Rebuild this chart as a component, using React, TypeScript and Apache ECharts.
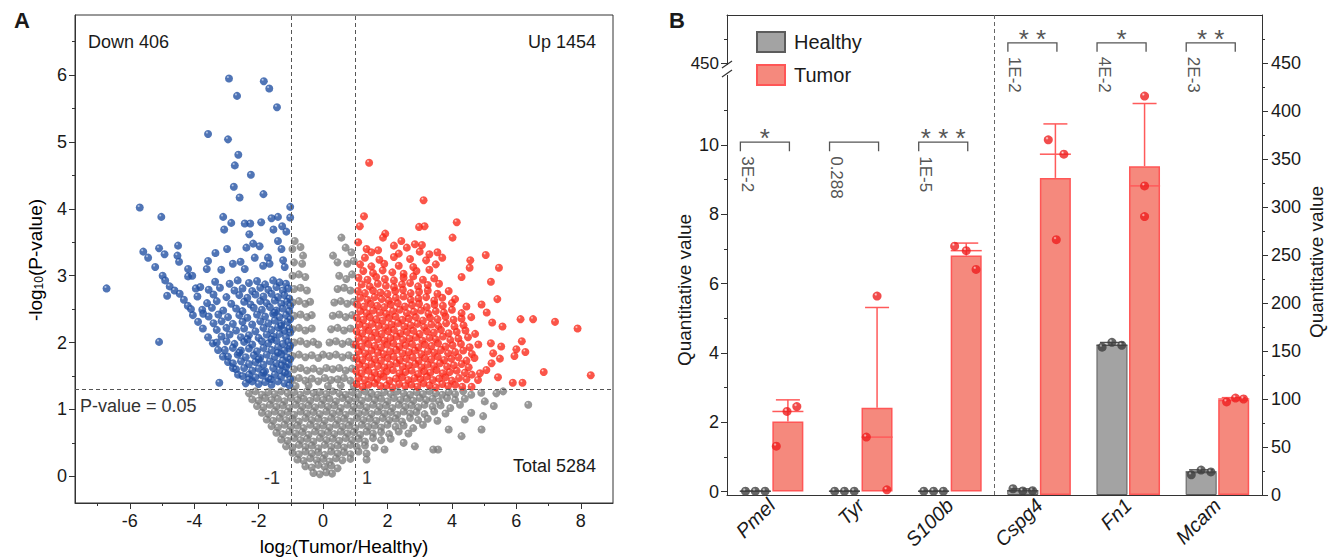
import React, { useEffect, useRef } from 'react';
import * as echarts from 'echarts';

const FONT = '"Liberation Sans", Arial, Helvetica, sans-serif';

// ---------------- Panel A data (log2 FC, -log10 P) ----------------
const downPoints: [number, number][] = [
  [-2.92,5.95],[-1.84,5.91],[-1.67,5.80],[-2.67,5.69],[-1.43,5.52],[-3.57,5.12],[-2.95,5.04],[-2.63,4.81],[-2.74,4.65],[-2.24,4.51],
  [-2.77,4.33],[-2.59,4.17],[-1.85,4.22],[-5.69,4.02],[-5.02,3.88],[-1.02,4.03],[-6.72,2.81],[-5.09,2.01],[-3.22,1.40],
  [-3.10,3.88],[-2.85,3.79],[-3.07,3.69],[-2.43,3.78],[-2.26,3.78],[-2.29,3.62],[-1.92,3.80],[-1.60,3.86],[-1.40,3.88],[-1.54,3.69],
  [-1.27,3.74],[-1.14,3.66],[-1.02,3.87],[-5.58,3.36],[-5.43,3.27],[-5.09,3.41],[-4.92,3.32],[-5.21,3.13],[-4.50,3.45],[-4.52,3.30],
  [-4.47,3.21],[-4.19,3.10],[-4.06,3.00],[-4.19,2.99],[-4.98,3.00],[-4.90,2.93],[-4.76,2.84],[-4.61,2.78],[-4.45,2.73],[-4.32,2.64],
  [-4.84,2.70],[-4.04,2.41],[-3.88,2.31],[-3.73,2.21],[-3.57,2.08],[-3.42,1.99],[-3.26,1.89],[-3.11,1.79],[-2.95,1.71],[-2.80,1.62],
  [-2.64,1.52],[-3.95,2.81],[-3.81,2.83],[-3.72,2.43],[-3.57,3.22],[-3.61,3.10],[-3.34,3.34],[-3.16,3.09],[-2.98,3.40],[-2.80,3.18],
  [-2.56,3.21],[-2.43,3.10],[-2.12,3.27],[-1.97,3.44],[-2.17,3.48],[-2.38,3.42],[-1.71,3.27],[-1.66,3.18],[-1.86,3.15],[-1.40,3.52],
  [-1.29,3.40],[-1.24,3.23],[-1.19,3.13],[-4.20,2.55],[-4.10,2.50],
  [-3.35,2.91],[-2.90,2.88],[-2.65,2.93],[-2.30,2.89],[-2.05,2.92],[-1.80,2.87],[-1.55,2.93],[-1.35,2.90],[-1.15,2.88],
  [-3.55,2.79],[-3.20,2.82],[-2.75,2.78],[-2.50,2.81],[-2.20,2.77],[-1.95,2.82],[-1.70,2.79],[-1.45,2.83],[-1.25,2.78],[-1.08,2.81],
  [-3.90,2.69],[-3.40,2.72],[-3.00,2.68],[-2.60,2.71],[-2.35,2.67],[-2.10,2.72],[-1.85,2.69],[-1.60,2.73],[-1.40,2.68],[-1.20,2.71],[-1.05,2.66],
  [-3.60,2.59],[-3.30,2.62],[-2.85,2.58],[-2.45,2.61],[-2.25,2.57],[-1.95,2.62],[-1.75,2.59],[-1.50,2.63],[-1.30,2.58],[-1.12,2.61],
  [-3.75,2.49],[-3.45,2.52],[-3.10,2.48],[-2.70,2.51],[-2.50,2.47],[-2.15,2.52],[-1.90,2.49],[-1.65,2.53],[-1.45,2.48],[-1.25,2.51],[-1.05,2.47],
  [-3.55,2.39],[-3.25,2.42],[-2.95,2.38],[-2.60,2.41],[-2.35,2.37],[-2.05,2.42],[-1.80,2.39],[-1.55,2.43],[-1.35,2.38],[-1.15,2.41],
  [-3.40,2.29],[-3.15,2.32],[-2.80,2.28],[-2.50,2.31],[-2.20,2.27],[-1.95,2.32],[-1.70,2.29],[-1.50,2.33],[-1.30,2.28],[-1.10,2.31],
  [-3.30,2.19],[-3.00,2.22],[-2.70,2.18],[-2.45,2.21],[-2.10,2.17],[-1.85,2.22],[-1.60,2.19],[-1.40,2.23],[-1.20,2.18],[-1.05,2.21],
  [-3.15,2.09],[-2.90,2.12],[-2.55,2.08],[-2.30,2.11],[-2.00,2.07],[-1.75,2.12],[-1.55,2.09],[-1.35,2.13],[-1.15,2.08],
  [-3.30,2.00],[-3.00,2.02],[-2.75,1.98],[-2.45,2.01],[-2.20,1.97],[-1.90,2.02],[-1.70,1.99],[-1.45,2.03],[-1.25,1.98],[-1.08,2.01],
  [-3.05,1.89],[-2.80,1.92],[-2.55,1.88],[-2.30,1.91],[-2.05,1.87],[-1.85,1.92],[-1.60,1.89],[-1.40,1.93],[-1.20,1.88],[-1.05,1.91],
  [-2.95,1.79],[-2.65,1.82],[-2.40,1.78],[-2.15,1.81],[-1.95,1.77],[-1.75,1.82],[-1.50,1.79],[-1.30,1.83],[-1.12,1.78],
  [-2.80,1.69],[-2.55,1.72],[-2.30,1.68],[-2.10,1.71],[-1.85,1.67],[-1.65,1.72],[-1.45,1.69],[-1.25,1.73],[-1.07,1.68],
  [-2.70,1.60],[-2.45,1.62],[-2.20,1.58],[-2.00,1.61],[-1.80,1.57],[-1.55,1.62],[-1.35,1.59],[-1.15,1.63],
  [-2.50,1.50],[-2.30,1.52],[-2.10,1.48],[-1.90,1.51],[-1.70,1.47],[-1.50,1.52],[-1.30,1.49],[-1.10,1.53],
  [-2.40,1.39],[-2.20,1.42],[-2.00,1.38],[-1.80,1.41],[-1.60,1.37],[-1.40,1.42],[-1.20,1.39],[-1.05,1.36],
  [-1.02,1.45],[-1.18,1.55],[-1.28,1.66],[-1.02,1.75],[-1.40,1.85],[-1.02,1.95],[-1.60,2.05],[-1.02,2.15],[-1.30,2.25],
  [-1.02,2.35],[-1.50,2.45],[-1.02,2.55],[-1.62,1.45],[-1.85,1.55],[-2.30,1.45],[-2.00,1.75],[-2.60,1.85],[-2.35,2.05],
];

const upPoints: [number, number][] = [
  [1.04,1.38],[1.22,1.34],[1.41,1.37],[1.60,1.39],[1.78,1.35],[1.97,1.36],[2.15,1.33],[2.36,1.38],[2.55,1.35],[2.74,1.37],[2.93,1.34],[3.12,1.39],[3.30,1.36],[3.50,1.33],[3.70,1.38],[3.88,1.35],[4.10,1.37],[4.32,1.34],
  [1.10,1.47],[1.30,1.44],[1.50,1.48],[1.68,1.45],[1.88,1.49],[2.06,1.43],[2.26,1.46],[2.45,1.48],[2.64,1.44],[2.84,1.47],[3.02,1.45],[3.22,1.49],[3.41,1.44],[3.60,1.46],[3.80,1.48],[4.00,1.43],[4.22,1.47],[4.45,1.45],
  [1.03,1.57],[1.20,1.54],[1.40,1.58],[1.60,1.55],[1.79,1.53],[1.98,1.57],[2.17,1.59],[2.37,1.54],[2.56,1.56],[2.75,1.58],[2.95,1.53],[3.14,1.57],[3.33,1.55],[3.52,1.59],[3.72,1.54],[3.93,1.56],[4.15,1.58],[4.40,1.55],[4.62,1.52],
  [1.12,1.67],[1.31,1.64],[1.50,1.68],[1.70,1.65],[1.90,1.63],[2.08,1.67],[2.28,1.69],[2.47,1.64],[2.66,1.66],[2.86,1.68],[3.05,1.63],[3.24,1.67],[3.44,1.65],[3.63,1.69],[3.85,1.64],[4.06,1.66],[4.30,1.68],[4.52,1.63],
  [1.04,1.77],[1.22,1.74],[1.42,1.78],[1.61,1.75],[1.80,1.73],[2.00,1.77],[2.19,1.79],[2.38,1.74],[2.58,1.76],[2.78,1.78],[2.97,1.73],[3.16,1.77],[3.36,1.75],[3.56,1.79],[3.76,1.74],[3.98,1.76],[4.20,1.78],[4.45,1.73],[4.70,1.77],
  [1.10,1.87],[1.30,1.84],[1.50,1.88],[1.70,1.85],[1.88,1.83],[2.08,1.87],[2.27,1.89],[2.46,1.84],[2.66,1.86],[2.85,1.88],[3.05,1.83],[3.25,1.87],[3.45,1.85],[3.66,1.89],[3.88,1.84],[4.10,1.86],[4.35,1.88],[4.62,1.83],
  [1.02,1.97],[1.20,1.94],[1.40,1.98],[1.60,1.95],[1.80,1.93],[1.99,1.97],[2.18,1.99],[2.37,1.94],[2.56,1.96],[2.76,1.98],[2.96,1.93],[3.16,1.97],[3.37,1.95],[3.57,1.99],[3.80,1.94],[4.02,1.96],[4.28,1.98],[4.55,1.93],[4.82,1.97],
  [1.10,2.07],[1.30,2.04],[1.50,2.08],[1.70,2.05],[1.90,2.03],[2.09,2.07],[2.28,2.09],[2.48,2.04],[2.68,2.06],[2.88,2.08],[3.08,2.03],[3.30,2.07],[3.50,2.05],[3.72,2.09],[3.95,2.04],[4.20,2.06],[4.50,2.08],
  [1.04,2.17],[1.22,2.14],[1.42,2.18],[1.62,2.15],[1.82,2.13],[2.02,2.17],[2.20,2.19],[2.40,2.14],[2.60,2.16],[2.80,2.18],[3.00,2.13],[3.22,2.17],[3.44,2.15],[3.66,2.19],[3.90,2.14],[4.15,2.16],[4.42,2.18],[4.72,2.13],
  [1.12,2.27],[1.32,2.24],[1.52,2.28],[1.72,2.25],[1.92,2.23],[2.12,2.27],[2.32,2.29],[2.52,2.24],[2.72,2.26],[2.93,2.28],[3.14,2.23],[3.36,2.27],[3.58,2.25],[3.82,2.29],[4.08,2.24],[4.36,2.26],
  [1.05,2.37],[1.25,2.34],[1.45,2.38],[1.65,2.35],[1.85,2.33],[2.05,2.37],[2.25,2.39],[2.46,2.34],[2.66,2.36],[2.88,2.38],[3.10,2.33],[3.32,2.37],[3.55,2.35],[3.80,2.39],[4.05,2.34],[4.30,2.36],[4.60,2.38],
  [1.15,2.47],[1.35,2.44],[1.55,2.48],[1.76,2.45],[1.96,2.43],[2.17,2.47],[2.38,2.49],[2.60,2.44],[2.82,2.46],[3.04,2.48],[3.27,2.43],[3.50,2.47],[3.75,2.45],[4.00,2.49],[4.30,2.44],
  [1.06,2.57],[1.27,2.54],[1.48,2.58],[1.68,2.55],[1.90,2.53],[2.10,2.57],[2.32,2.59],[2.54,2.54],[2.76,2.56],[2.98,2.58],[3.22,2.53],[3.46,2.57],[3.72,2.55],[4.00,2.59],[4.45,2.54],
  [1.15,2.67],[1.38,2.64],[1.60,2.68],[1.82,2.65],[2.04,2.63],[2.26,2.67],[2.50,2.69],[2.72,2.64],[2.96,2.66],[3.20,2.68],[3.45,2.63],[3.70,2.67],[4.10,2.65],
  [1.08,2.77],[1.30,2.74],[1.55,2.78],[1.78,2.75],[2.00,2.73],[2.24,2.77],[2.48,2.79],[2.72,2.74],[2.98,2.76],[3.25,2.78],[3.55,2.73],[3.90,2.77],
  [1.20,2.87],[1.45,2.84],[1.70,2.88],[1.95,2.85],[2.20,2.83],[2.45,2.87],[2.70,2.89],[2.95,2.84],[3.25,2.86],[3.60,2.88],
  [1.10,2.97],[1.38,2.94],[1.65,2.98],[1.92,2.95],[2.20,2.93],[2.50,2.97],[2.80,2.99],[3.10,2.94],[3.45,2.96],[4.30,2.98],
  [1.25,3.07],[1.55,3.04],[1.85,3.08],[2.15,3.05],[2.50,3.03],[2.90,3.07],[3.30,3.09],[4.55,3.12],
  [1.15,3.17],[1.50,3.14],[1.90,3.18],[2.35,3.15],[2.80,3.13],[3.50,3.17],[4.57,3.23],
  [1.30,3.27],[1.75,3.24],[2.20,3.28],[2.70,3.25],[3.20,3.23],[3.70,3.27],
  [1.09,3.50],[1.35,3.40],[1.71,3.38],[2.20,3.45],[2.60,3.42],[2.85,3.47],[1.50,3.35],[2.35,3.33],[3.00,3.36],[3.30,3.32],[3.55,3.35],
  [4.92,2.57],[5.08,2.45],[5.25,2.30],
  [1.43,4.69],[3.12,4.13],[1.27,3.89],[1.14,3.74],[2.98,3.73],[3.15,3.74],[4.15,3.80],[4.02,3.57],[1.93,3.63],[1.86,3.57],
  [2.43,3.52],[3.07,3.46],[5.05,3.31],[5.46,3.12],[5.21,2.91],[5.41,2.65],[6.13,2.35],[6.52,2.35],[7.20,2.31],[7.90,2.21],
  [8.31,1.51],[6.85,1.56],[6.17,2.02],[6.28,1.86],[6.00,1.90],[5.94,1.80],[5.57,2.24],[5.89,1.40],[6.19,1.40],[5.43,1.48],
  [5.53,1.94],[5.49,1.76],[5.21,1.99],[5.28,1.84],[5.23,1.69],[5.07,1.59],[4.87,1.54],[4.81,1.44],[4.61,1.34],
];

const nsPoints: [number, number][] = [
  [-2.30,1.24],[-2.10,1.27],[-1.90,1.22],[-1.70,1.26],[-1.50,1.23],[-1.30,1.27],[-1.10,1.24],[-0.90,1.26],[-0.70,1.22],[-0.50,1.27],[-0.30,1.24],[-0.10,1.26],
  [0.10,1.23],[0.30,1.27],[0.50,1.24],[0.70,1.22],[0.90,1.26],[1.10,1.23],[1.30,1.27],[1.50,1.24],[1.70,1.22],[1.90,1.26],[2.10,1.23],[2.30,1.27],[2.50,1.24],
  [2.70,1.22],[2.90,1.26],[3.10,1.23],[3.30,1.27],[3.50,1.24],[3.70,1.22],[3.90,1.26],[4.10,1.23],[4.35,1.27],[4.60,1.22],
  [-2.20,1.15],[-2.00,1.13],[-1.80,1.17],[-1.60,1.14],[-1.40,1.16],[-1.20,1.12],[-1.00,1.17],[-0.80,1.14],[-0.60,1.16],[-0.40,1.13],[-0.20,1.17],[0.00,1.14],
  [0.20,1.16],[0.40,1.12],[0.60,1.17],[0.80,1.14],[1.00,1.16],[1.20,1.13],[1.40,1.17],[1.60,1.14],[1.80,1.16],[2.00,1.12],[2.20,1.17],[2.40,1.14],[2.60,1.16],
  [2.80,1.13],[3.00,1.17],[3.20,1.14],[3.40,1.16],[3.60,1.12],[3.85,1.17],[4.10,1.14],[4.40,1.16],
  [-2.05,1.05],[-1.85,1.03],[-1.65,1.07],[-1.45,1.04],[-1.25,1.06],[-1.05,1.02],[-0.85,1.07],[-0.65,1.04],[-0.45,1.06],[-0.25,1.03],[-0.05,1.07],[0.15,1.04],
  [0.35,1.06],[0.55,1.02],[0.75,1.07],[0.95,1.04],[1.15,1.06],[1.35,1.03],[1.55,1.07],[1.75,1.04],[1.95,1.06],[2.15,1.02],[2.35,1.07],[2.55,1.04],[2.75,1.06],
  [2.95,1.03],[3.15,1.07],[3.40,1.04],[3.65,1.06],[3.95,1.02],[4.25,1.07],
  [-1.90,0.95],[-1.70,0.93],[-1.50,0.97],[-1.30,0.94],[-1.10,0.96],[-0.90,0.92],[-0.70,0.97],[-0.50,0.94],[-0.30,0.96],[-0.10,0.93],[0.10,0.97],[0.30,0.94],
  [0.50,0.96],[0.70,0.92],[0.90,0.97],[1.10,0.94],[1.30,0.96],[1.50,0.93],[1.70,0.97],[1.90,0.94],[2.10,0.96],[2.30,0.92],[2.50,0.97],[2.70,0.94],[2.90,0.96],
  [3.15,0.93],[3.45,0.97],[3.80,0.94],
  [-1.75,0.85],[-1.55,0.83],[-1.35,0.87],[-1.15,0.84],[-0.95,0.86],[-0.75,0.82],[-0.55,0.87],[-0.35,0.84],[-0.15,0.86],[0.05,0.83],[0.25,0.87],[0.45,0.84],
  [0.65,0.86],[0.85,0.82],[1.05,0.87],[1.25,0.84],[1.45,0.86],[1.65,0.83],[1.85,0.87],[2.05,0.84],[2.25,0.86],[2.45,0.82],[2.70,0.87],[2.95,0.84],[3.25,0.86],[3.55,0.83],
  [-1.60,0.75],[-1.40,0.73],[-1.20,0.77],[-1.00,0.74],[-0.80,0.76],[-0.60,0.72],[-0.40,0.77],[-0.20,0.74],[0.00,0.76],[0.20,0.73],[0.40,0.77],[0.60,0.74],
  [0.80,0.76],[1.00,0.72],[1.20,0.77],[1.40,0.74],[1.60,0.76],[1.80,0.73],[2.00,0.77],[2.25,0.74],[2.50,0.76],[2.80,0.72],[3.10,0.77],
  [-1.45,0.65],[-1.25,0.63],[-1.05,0.67],[-0.85,0.64],[-0.65,0.66],[-0.45,0.62],[-0.25,0.67],[-0.05,0.64],[0.15,0.66],[0.35,0.63],[0.55,0.67],[0.75,0.64],
  [0.95,0.66],[1.15,0.62],[1.35,0.67],[1.55,0.64],[1.80,0.66],[2.05,0.63],[2.35,0.67],[2.65,0.64],
  [-1.30,0.55],[-1.10,0.53],[-0.90,0.57],[-0.70,0.54],[-0.50,0.56],[-0.30,0.52],[-0.10,0.57],[0.10,0.54],[0.30,0.56],[0.50,0.53],[0.70,0.57],[0.90,0.54],
  [1.10,0.56],[1.30,0.52],[1.55,0.57],[1.80,0.54],[2.10,0.56],
  [-1.15,0.45],[-0.95,0.43],[-0.75,0.47],[-0.55,0.44],[-0.35,0.46],[-0.15,0.42],[0.05,0.47],[0.25,0.44],[0.45,0.46],[0.65,0.43],[0.85,0.47],[1.05,0.44],[1.30,0.46],[1.60,0.43],
  [-0.95,0.35],[-0.75,0.33],[-0.55,0.37],[-0.35,0.34],[-0.15,0.36],[0.05,0.32],[0.25,0.37],[0.45,0.34],[0.65,0.36],[0.85,0.33],[1.10,0.37],[1.35,0.34],
  [-0.80,0.25],[-0.60,0.23],[-0.40,0.27],[-0.20,0.24],[0.00,0.26],[0.20,0.22],[0.40,0.27],[0.60,0.24],[0.85,0.26],
  [-0.55,0.15],[-0.35,0.13],[-0.15,0.17],[0.05,0.14],[0.25,0.16],[0.45,0.12],
  [-0.30,0.05],[-0.10,0.03],[0.10,0.06],[0.28,0.04],
  [6.37,1.07],[4.92,0.70],[4.97,0.90],[4.30,0.60],[3.57,0.40],[3.42,0.40],[2.85,0.45],[1.91,0.40],[1.35,0.25],[5.02,1.12],
  [4.91,1.25],[5.38,1.24],[5.59,1.27],[4.60,0.95],[4.40,0.85],[3.90,0.70],[2.50,0.50],[5.30,1.05],
  [-0.95,3.40],[-0.70,3.43],[-0.88,3.52],[-0.62,3.30],[-0.90,3.20],[-0.65,3.18],[-0.95,3.00],[-0.75,3.02],[-0.55,2.98],
  [-0.90,2.80],[-0.70,2.82],[-0.50,2.78],[-0.95,2.60],[-0.75,2.62],[-0.55,2.58],[-0.40,2.61],[-0.90,2.40],[-0.70,2.42],[-0.50,2.38],[-0.35,2.41],
  [-0.95,2.20],[-0.75,2.22],[-0.55,2.18],[-0.35,2.21],[-0.90,2.00],[-0.70,2.02],[-0.50,1.98],[-0.30,2.01],[-0.15,1.97],
  [-0.95,1.80],[-0.75,1.82],[-0.55,1.78],[-0.35,1.81],[-0.15,1.77],[0.00,1.82],[-0.90,1.60],[-0.70,1.62],[-0.50,1.58],[-0.30,1.61],[-0.10,1.57],[0.10,1.62],
  [-0.95,1.45],[-0.75,1.47],[-0.55,1.43],[-0.35,1.46],[-0.15,1.42],[0.05,1.47],[0.25,1.44],[-0.85,1.35],[-0.45,1.36],[0.15,1.35],[0.55,1.36],
  [0.57,3.57],[0.31,3.30],[0.88,3.35],[0.72,2.95],[0.70,3.42],[0.45,3.20],[0.75,3.18],[0.95,3.22],[0.50,3.00],[0.90,3.02],
  [0.45,2.80],[0.65,2.82],[0.85,2.78],[0.35,2.60],[0.55,2.62],[0.75,2.58],[0.95,2.61],[0.30,2.40],[0.50,2.42],[0.70,2.38],[0.90,2.41],
  [0.25,2.20],[0.45,2.22],[0.65,2.18],[0.85,2.21],[0.20,2.00],[0.40,2.02],[0.60,1.98],[0.80,2.01],[0.95,1.97],
  [0.20,1.80],[0.40,1.82],[0.60,1.78],[0.80,1.81],[0.95,1.77],[0.30,1.60],[0.50,1.62],[0.70,1.58],[0.90,1.61],[0.45,1.45],[0.65,1.47],[0.85,1.43],[0.95,1.35],
];

// ---------------- Panel B data ----------------
const genes = ['Pmel', 'Tyr', 'S100b', 'Cspg4', 'Fn1', 'Mcam'];
// 0 = left axis (0-10), 1 = right axis (0-500)
const axisGroup = [0, 0, 0, 1, 1, 1];
const healthyReps = [
  [0.01, 0.01, 0.01], [0.01, 0.01, 0.01], [0.01, 0.01, 0.01],
  [6.5, 4.2, 4.5], [154, 159, 156], [21, 26, 24],
];
const tumorReps = [
  [1.31, 2.31, 2.45], [1.57, 5.64, 0.05], [7.08, 6.95, 6.41],
  [370, 266, 355], [322, 415.6, 290], [97, 101, 100],
];
const pLabels = ['3E-2', '0.288', '1E-5', '1E-2', '4E-2', '2E-3'];
const sigStars = ['*', '', '***', '**', '*', '**'];

// layout constants (positions only)
const healthyJitter = [
  [-0.11, 0, 0.11], [-0.11, 0, 0.11], [-0.11, 0, 0.11],
  [-0.11, 0, 0.11], [-0.11, 0, 0.11], [-0.11, 0, 0.11],
];
const tumorJitter = [
  [-0.13, -0.01, 0.1], [-0.12, 0, 0.11], [-0.13, 0, 0.11],
  [-0.08, 0.01, 0.095], [0, 0, 0], [-0.08, 0.02, 0.11],
];
const BAR_SHIFT = 0.183;
const BAR_HALF = 0.174;
const BRACKET_LEVEL = [10.08, 471];

const mean = (a: number[]) => a.reduce((s, v) => s + v, 0) / a.length;
const sd = (a: number[]) => {
  const m = mean(a);
  return Math.sqrt(a.reduce((s, v) => s + (v - m) * (v - m), 0) / (a.length - 1));
};
const median = (a: number[]) => {
  const s = [...a].sort((x, y) => x - y);
  return s[Math.floor(s.length / 2)];
};

const sphere = (base: string, hi: string) =>
  new echarts.graphic.RadialGradient(0.36, 0.32, 0.62, [
    { offset: 0, color: hi },
    { offset: 0.3, color: base },
    { offset: 1, color: base },
  ]);

const range = (a: number, b: number, s: number) => {
  const out: number[] = [];
  for (let v = a; v <= b + 1e-9; v += s) out.push(Math.round(v * 100) / 100);
  return out;
};

function buildOption(): any {
  const tickColor = '#333';
  const lbl = { fontSize: 18, color: '#1a1a1a', fontFamily: FONT };
  const line = { onZero: false, lineStyle: { color: tickColor } };
  const noLine = { show: false, onZero: false };

  const xAxes: any[] = [
    {
      gridIndex: 0, type: 'value', min: -7.7, max: 9,
      axisLine: line,
      axisTick: { customValues: range(-6, 8, 2), length: 6, lineStyle: { color: tickColor } },
      axisLabel: { ...lbl, customValues: range(-6, 8, 2), margin: 9 },
      splitLine: { show: false },
    },
    {
      gridIndex: 0, type: 'value', min: -7.7, max: 9, position: 'bottom',
      axisLine: noLine,
      axisTick: { customValues: range(-7, 7, 2), length: 3, lineStyle: { color: tickColor } },
      axisLabel: { show: false }, splitLine: { show: false },
    },
    {
      gridIndex: 1, type: 'category', data: genes,
      axisLine: line,
      axisTick: { alignWithLabel: true, length: 6, lineStyle: { color: tickColor } },
      axisLabel: { ...lbl, fontSize: 20, rotate: 45, fontStyle: 'italic', margin: 7 },
    },
    {
      gridIndex: 1, type: 'category', data: genes, position: 'top',
      axisLine: line,
      axisTick: { show: false }, axisLabel: { show: false },
    },
    { gridIndex: 1, type: 'value', min: -0.5, max: 5.5, show: false, axisLine: noLine },
  ];

  const yAxes: any[] = [
    {
      gridIndex: 0, type: 'value', min: -0.4, max: 6.9,
      axisLine: line,
      axisTick: { customValues: range(0, 6, 1), length: 6, lineStyle: { color: tickColor } },
      axisLabel: { ...lbl, customValues: range(0, 6, 1), margin: 8 },
      splitLine: { show: false },
    },
    {
      gridIndex: 0, type: 'value', min: -0.4, max: 6.9, position: 'left',
      axisLine: noLine,
      axisTick: { customValues: range(0.5, 6.5, 1), length: 3, lineStyle: { color: tickColor } },
      axisLabel: { show: false }, splitLine: { show: false },
    },
    {
      gridIndex: 1, type: 'value', min: -0.1, max: 13.75, position: 'left',
      axisLine: line,
      axisTick: { customValues: range(0, 10, 2), length: 6, lineStyle: { color: tickColor } },
      axisLabel: { ...lbl, customValues: range(0, 10, 2), margin: 8 },
      splitLine: { show: false },
    },
    {
      gridIndex: 1, type: 'value', min: -0.1, max: 13.75, position: 'left',
      axisLine: noLine,
      axisTick: { customValues: range(1, 11, 2), length: 3, lineStyle: { color: tickColor } },
      axisLabel: { show: false }, splitLine: { show: false },
    },
    {
      gridIndex: 1, type: 'value', min: 0, max: 500, position: 'left',
      axisLine: noLine,
      axisTick: { customValues: [450], length: 6, lineStyle: { color: tickColor } },
      axisLabel: { ...lbl, customValues: [450], margin: 8, fontSize: 17 },
      splitLine: { show: false },
    },
    {
      gridIndex: 1, type: 'value', min: 0, max: 500, position: 'left',
      axisLine: noLine,
      axisTick: { customValues: [475], length: 3, lineStyle: { color: tickColor } },
      axisLabel: { show: false }, splitLine: { show: false },
    },
    {
      gridIndex: 1, type: 'value', min: 0, max: 500, position: 'right',
      axisLine: line,
      axisTick: { customValues: range(0, 450, 50), length: 6, lineStyle: { color: tickColor } },
      axisLabel: { ...lbl, customValues: range(0, 450, 50), margin: 9 },
      splitLine: { show: false },
    },
    {
      gridIndex: 1, type: 'value', min: 0, max: 500, position: 'right',
      axisLine: noLine,
      axisTick: { customValues: range(25, 475, 50), length: 3, lineStyle: { color: tickColor } },
      axisLabel: { show: false }, splitLine: { show: false },
    },
  ];

  const healthyStyle = { color: '#a3a3a3', borderColor: '#5c5c5c', borderWidth: 1 };
  const tumorStyle = { color: '#f5897d', borderColor: '#ff5656', borderWidth: 1.5 };

  const barData = (reps: number[][], g: number) =>
    reps.map((r, i) => (axisGroup[i] === g ? mean(r) : null));

  const statsData = (g: number) => {
    const out: number[][] = [];
    genes.forEach((_, i) => {
      if (axisGroup[i] !== g) return;
      out.push([i, mean(healthyReps[i]), sd(healthyReps[i]), median(healthyReps[i]), 0]);
      out.push([i, mean(tumorReps[i]), sd(tumorReps[i]), median(tumorReps[i]), 1]);
    });
    return out;
  };

  const dotData = (reps: number[][], jit: number[][], g: number, shift: number) => {
    const out: number[][] = [];
    reps.forEach((r, i) => {
      if (axisGroup[i] !== g) return;
      r.forEach((v, k) => out.push([i + shift + jit[i][k], v]));
    });
    return out;
  };

  const statsRender = (params: any, api: any) => {
    const i = api.value(0), m = api.value(1), s = api.value(2), md = api.value(3), t = api.value(4);
    const cx = i + (t ? BAR_SHIFT : -BAR_SHIFT);
    const pm = api.coord([cx, m]);
    const pt = api.coord([cx, m + s]);
    const pl = api.coord([cx - BAR_HALF, md]);
    const pr = api.coord([cx + BAR_HALF, md]);
    const stroke = t ? '#ff5a5a' : '#505050';
    const st = { stroke, lineWidth: 1.5 };
    return {
      type: 'group',
      children: [
        { type: 'line', shape: { x1: pm[0], y1: pm[1], x2: pt[0], y2: pt[1] }, style: st },
        { type: 'line', shape: { x1: pt[0] - 12, y1: pt[1], x2: pt[0] + 12, y2: pt[1] }, style: st },
        { type: 'line', shape: { x1: pl[0], y1: pl[1], x2: pr[0], y2: pr[1] }, style: st },
      ],
    };
  };

  const bracketRender = (params: any, api: any) => {
    const i = api.value(0), lv = api.value(1);
    const pL = api.coord([i - 0.35, lv]);
    const pR = api.coord([i + 0.2, lv]);
    const col = '#555';
    const children: any[] = [
      {
        type: 'polyline',
        shape: { points: [[pL[0], pL[1] + 9], [pL[0], pL[1]], [pR[0], pR[1]], [pR[0], pR[1] + 9]] },
        style: { stroke: col, lineWidth: 1.3, fill: null },
      },
      {
        type: 'text', x: pL[0] + 7, y: pL[1] + 14, rotation: -Math.PI / 2,
        style: { text: pLabels[i], fill: col, fontSize: 17, fontFamily: FONT, align: 'left', verticalAlign: 'middle' },
      },
    ];
    if (sigStars[i]) {
      children.push({
        type: 'text', x: (pL[0] + pR[0]) / 2, y: pL[1] + 9,
        style: { text: sigStars[i].split('').join(' '), fill: col, fontSize: 26, fontFamily: FONT, align: 'center', verticalAlign: 'bottom' },
      });
    }
    return { type: 'group', children };
  };

  const bracketData = (g: number) =>
    genes.map((_, i) => i).filter((i) => axisGroup[i] === g).map((i) => [i, BRACKET_LEVEL[g]]);

  const dotHealthy = sphere('#3e3e3e', '#d8d8d8');
  const dotTumor = sphere('#ee1f1f', '#ffe0e0');

  const series: any[] = [
    {
      type: 'scatter', xAxisIndex: 0, yAxisIndex: 0, data: [], z: 1, silent: true,
      markLine: {
        silent: true, symbol: 'none', label: { show: false },
        lineStyle: { type: [4, 3], color: '#555', width: 1 },
        data: [{ xAxis: -1 }, { xAxis: 1 }, { yAxis: 1.3 }],
      },
    },
    { type: 'scatter', xAxisIndex: 0, yAxisIndex: 0, data: nsPoints, symbolSize: 8, z: 2, itemStyle: { color: sphere('#7d7d7d', '#e6e6e6') } },
    { type: 'scatter', xAxisIndex: 0, yAxisIndex: 0, data: downPoints, symbolSize: 8, z: 3, itemStyle: { color: sphere('#2452a3', '#c8d6f0') } },
    { type: 'scatter', xAxisIndex: 0, yAxisIndex: 0, data: upPoints, symbolSize: 8, z: 3, itemStyle: { color: sphere('#fa2a1b', '#ffd6d0') } },

    { name: 'Healthy', type: 'bar', xAxisIndex: 2, yAxisIndex: 2, data: barData(healthyReps, 0), barWidth: 31, barGap: '5%', itemStyle: healthyStyle, z: 2 },
    { name: 'Tumor', type: 'bar', xAxisIndex: 2, yAxisIndex: 2, data: barData(tumorReps, 0), barWidth: 31, barGap: '5%', itemStyle: tumorStyle, z: 2 },
    { name: 'Healthy', type: 'bar', xAxisIndex: 3, yAxisIndex: 6, data: barData(healthyReps, 1), barWidth: 31, barGap: '5%', itemStyle: healthyStyle, z: 2 },
    { name: 'Tumor', type: 'bar', xAxisIndex: 3, yAxisIndex: 6, data: barData(tumorReps, 1), barWidth: 31, barGap: '5%', itemStyle: tumorStyle, z: 2 },

    { type: 'custom', xAxisIndex: 4, yAxisIndex: 2, data: statsData(0), renderItem: statsRender, z: 3, silent: true },
    { type: 'custom', xAxisIndex: 4, yAxisIndex: 6, data: statsData(1), renderItem: statsRender, z: 3, silent: true },

    { type: 'scatter', xAxisIndex: 4, yAxisIndex: 2, data: dotData(healthyReps, healthyJitter, 0, -BAR_SHIFT), symbolSize: 9, z: 4, itemStyle: { color: dotHealthy } },
    { type: 'scatter', xAxisIndex: 4, yAxisIndex: 2, data: dotData(tumorReps, tumorJitter, 0, BAR_SHIFT), symbolSize: 9, z: 4, itemStyle: { color: dotTumor } },
    { type: 'scatter', xAxisIndex: 4, yAxisIndex: 6, data: dotData(healthyReps, healthyJitter, 1, -BAR_SHIFT), symbolSize: 9, z: 4, itemStyle: { color: dotHealthy } },
    { type: 'scatter', xAxisIndex: 4, yAxisIndex: 6, data: dotData(tumorReps, tumorJitter, 1, BAR_SHIFT), symbolSize: 9, z: 4, itemStyle: { color: dotTumor } },

    { type: 'custom', xAxisIndex: 4, yAxisIndex: 2, data: bracketData(0), renderItem: bracketRender, z: 5, silent: true },
    { type: 'custom', xAxisIndex: 4, yAxisIndex: 6, data: bracketData(1), renderItem: bracketRender, z: 5, silent: true },
    {
      type: 'scatter', xAxisIndex: 4, yAxisIndex: 2, data: [], z: 1, silent: true,
      markLine: {
        silent: true, symbol: 'none', label: { show: false },
        lineStyle: { type: [4, 3], color: '#666', width: 1 },
        data: [{ xAxis: 2.5 }],
      },
    },
  ];

  const subRich = {
    n: { fontSize: 19, fontFamily: FONT, color: '#1a1a1a', lineHeight: 22, verticalAlign: 'bottom' },
    s: { fontSize: 12, fontFamily: FONT, color: '#1a1a1a', lineHeight: 6, verticalAlign: 'bottom' },
  };
  const txt = (x: number, y: number, text: string, align: string, extra: any = {}) => ({
    type: 'text', x, y, silent: true,
    style: { text, fontSize: 18, fontFamily: FONT, fill: '#1a1a1a', align, verticalAlign: 'middle', ...extra },
  });

  const graphic: any[] = [
    txt(14, 20, 'A', 'left', { fontSize: 22, fontWeight: 'bold' }),
    txt(669, 20, 'B', 'left', { fontSize: 22, fontWeight: 'bold' }),
    txt(88, 42, 'Down 406', 'left'),
    txt(596, 42, 'Up 1454', 'right'),
    txt(596, 466, 'Total 5284', 'right'),
    txt(80, 406, 'P-value = 0.05', 'left', { fill: '#333' }),
    txt(272, 478, '-1', 'center', { fill: '#333' }),
    txt(367, 478, '1', 'center', { fill: '#333' }),
    {
      type: 'text', x: 344, y: 545, silent: true,
      style: { text: '{n|log}{s|2}{n|(Tumor/Healthy)}', rich: subRich, align: 'center', verticalAlign: 'middle' },
    },
    {
      type: 'text', x: 34, y: 260, rotation: Math.PI / 2, silent: true,
      style: { text: '{n|-log}{s|10}{n|(P-value)}', rich: subRich, align: 'center', verticalAlign: 'middle' },
    },
    {
      type: 'text', x: 684, y: 290, rotation: Math.PI / 2, silent: true,
      style: { text: 'Quantitative value', fontSize: 19, fontFamily: FONT, fill: '#1a1a1a', align: 'center', verticalAlign: 'middle' },
    },
    {
      type: 'text', x: 1316, y: 262, rotation: Math.PI / 2, silent: true,
      style: { text: 'Quantitative value', fontSize: 19, fontFamily: FONT, fill: '#1a1a1a', align: 'center', verticalAlign: 'middle' },
    },
  ];

  return {
    animation: false,
    backgroundColor: '#fff',
    textStyle: { fontFamily: FONT },
    grid: [
      { left: 75, top: 15, width: 538, height: 488, show: true, borderColor: '#333', borderWidth: 1, backgroundColor: 'transparent' },
      { left: 727, top: 15, width: 535, height: 480, show: false },
    ],
    legend: {
      data: ['Healthy', 'Tumor'], left: 751, top: 26, orient: 'vertical',
      itemWidth: 28, itemHeight: 20, itemGap: 11, icon: 'rect',
      textStyle: { fontSize: 20, fontFamily: FONT, color: '#1a1a1a', padding: [0, 0, 0, 4] },
      selectedMode: false,
    },
    xAxis: xAxes,
    yAxis: yAxes,
    series,
    graphic,
  };
}

export default function App() {
  const ref = useRef<HTMLDivElement>(null);
  useEffect(() => {
    document.body.style.margin = '0';
    const chart = echarts.init(ref.current!, null, { renderer: 'svg' });
    const option = buildOption();
    chart.setOption(option);
    // axis break on the left axis of panel B
    const y450 = chart.convertToPixel({ yAxisIndex: 4 } as any, 450) as number;
    const xl = 727;
    const brk: any[] = [
      { type: 'rect', shape: { x: xl - 3, y: y450 + 2, width: 6, height: 10 }, style: { fill: '#fff' }, z: 100 },
      { type: 'line', shape: { x1: xl - 5, y1: y450 + 5, x2: xl + 5, y2: y450 - 2 }, style: { stroke: '#333', lineWidth: 1.2 }, z: 101 },
      { type: 'line', shape: { x1: xl - 5, y1: y450 + 14, x2: xl + 5, y2: y450 + 7 }, style: { stroke: '#333', lineWidth: 1.2 }, z: 101 },
    ];
    chart.setOption({ graphic: [...option.graphic, ...brk] });
    return () => chart.dispose();
  }, []);
  return <div ref={ref} style={{ width: 1331, height: 560 }} />;
}
